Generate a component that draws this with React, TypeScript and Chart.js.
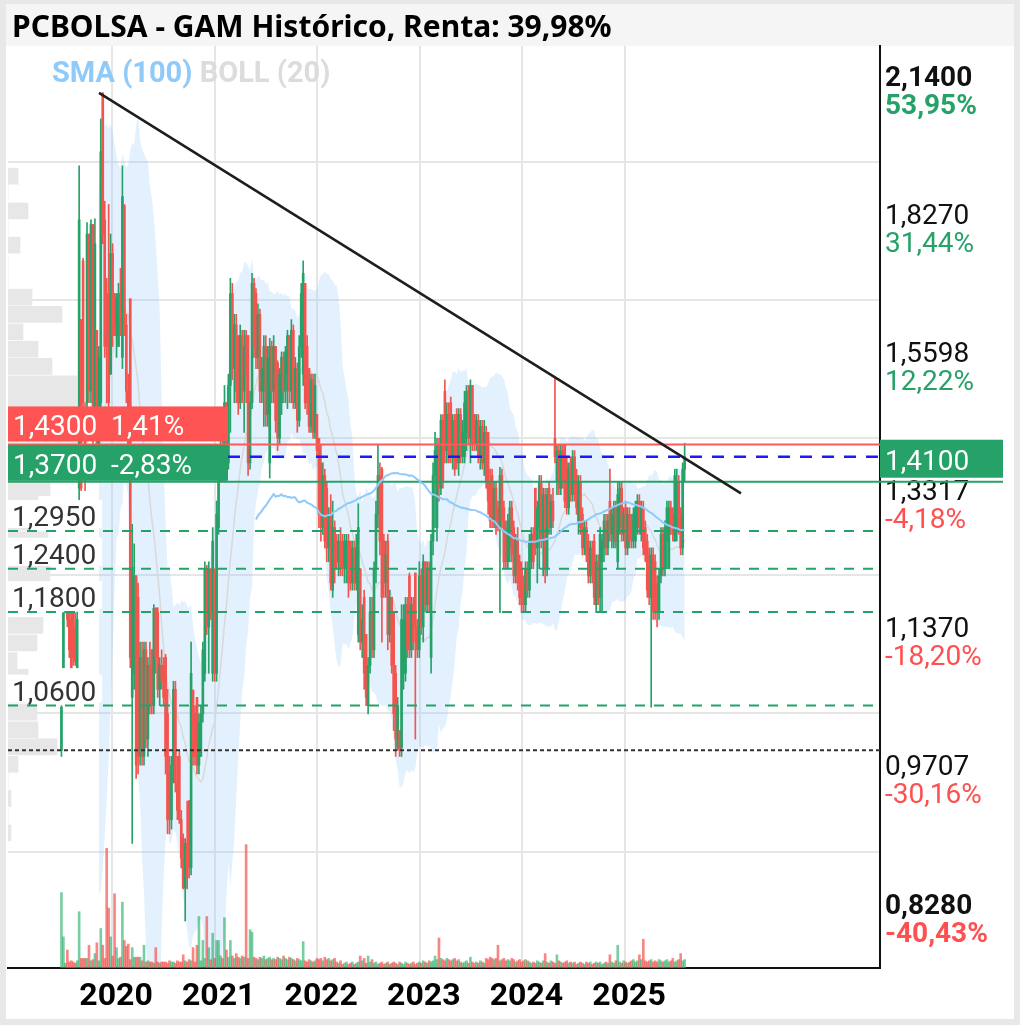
import React, { useEffect, useRef } from 'react';
import { Chart, registerables } from 'chart.js';

Chart.register(...registerables);

// ---------- data ----------
const START_DATE = '2019-07-05';

const OPEN = [
  1.007,1.107,1.179,1.179,1.179,1.17,1.179,1.16,1.107,1.36,
  1.65,1.765,1.45,1.5,1.82,1.52,1.84,1.45,1.63,1.42,
  1.5,2.14,1.85,1.7,1.7,1.55,1.78,1.7,1.62,1.6,
  1.7,1.58,1.88,1.64,1.52,1.69,1.07,1.1,1.23,1.2,
  1.0,1.12,1.0,1.13,1.02,1.11,1.13,1.06,1.185,1.18,
  1.08,1.11,1.11,1.12,1.05,0.98,0.93,0.99,1.08,0.97,
  1.0,0.93,0.91,0.86,0.905,0.95,0.88,1.079,1.05,1.07,
  0.99,1.0,1.05,1.1,1.24,1.16,1.24,1.1,1.234,1.1,
  1.3,1.38,1.43,1.38,1.5,1.4,1.53,1.7,1.56,1.64,
  1.62,1.5,1.62,1.52,1.62,1.62,1.4,1.5,1.72,1.7,
  1.58,1.66,1.52,1.52,1.6,1.48,1.4,1.6,1.52,1.6,
  1.57,1.44,1.5,1.58,1.52,1.55,1.62,1.52,1.63,1.5,
  1.56,1.47,1.6,1.55,1.72,1.6,1.56,1.46,1.54,1.45,
  1.48,1.44,1.4,1.3,1.38,1.36,1.27,1.32,1.21,1.3,
  1.28,1.25,1.28,1.28,1.24,1.24,1.28,1.28,1.22,1.27,
  1.22,1.15,1.24,1.14,1.2,1.15,1.06,1.11,1.18,1.13,
  1.24,1.32,1.38,1.39,1.28,1.22,1.28,1.15,1.2,1.18,
  1.1,1.01,1.03,1.01,1.1,1.1,1.19,1.23,1.13,1.19,
  1.234,1.16,1.13,1.23,1.16,1.25,1.19,1.24,1.12,1.28,
  1.38,1.3,1.43,1.36,1.47,1.52,1.42,1.48,1.5,1.41,
  1.47,1.48,1.4,1.48,1.41,1.41,1.45,1.52,1.44,1.53,
  1.48,1.43,1.47,1.41,1.46,1.4,1.45,1.45,1.37,1.38,
  1.31,1.36,1.33,1.3,1.38,1.33,1.3,1.25,1.27,1.33,
  1.3,1.23,1.28,1.25,1.24,1.22,1.19,1.24,1.21,1.25,
  1.29,1.36,1.27,1.3,1.37,1.28,1.35,1.24,1.36,1.3,
  1.34,1.44,1.37,1.42,1.36,1.42,1.43,1.4,1.33,1.4,
  1.35,1.41,1.38,1.31,1.37,1.32,1.27,1.3,1.28,1.23,
  1.27,1.28,1.19,1.25,1.2,1.25,1.27,1.31,1.27,1.34,
  1.29,1.28,1.33,1.25,1.3,1.36,1.29,1.33,1.27,1.32,
  1.31,1.28,1.28,1.3,1.34,1.29,1.33,1.3,1.28,1.26,
  1.2,1.26,1.25,1.22,1.18,1.23,1.29,1.24,1.28,1.24,
  1.33,1.32,1.28,1.3,1.37,1.32,1.27,1.39,
];

const HIGH = [
  1.06,1.179,1.179,1.179,1.179,1.179,1.179,1.179,1.18,1.968,
  1.65,1.77,1.5,1.844,1.82,1.85,1.84,1.852,1.63,1.6,
  2.077,2.14,1.89,1.73,1.883,1.82,1.8,1.7,1.7,1.72,
  1.75,1.968,1.883,1.66,1.55,1.69,1.305,1.276,1.23,1.22,
  1.14,1.14,1.14,1.14,1.12,1.14,1.13,1.19,1.186,1.186,
  1.12,1.13,1.12,1.124,1.08,1.0,1.0,1.09,1.09,1.0,
  1.007,0.94,0.915,0.91,0.95,0.951,1.14,1.079,1.06,1.07,
  1.05,1.06,1.14,1.25,1.245,1.25,1.24,1.3,1.24,1.34,
  1.4,1.45,1.44,1.53,1.5,1.55,1.73,1.72,1.66,1.66,
  1.62,1.64,1.63,1.63,1.63,1.62,1.52,1.74,1.73,1.71,
  1.68,1.67,1.58,1.62,1.62,1.6,1.615,1.61,1.62,1.6,
  1.574,1.56,1.59,1.59,1.6,1.63,1.62,1.65,1.64,1.58,
  1.57,1.62,1.72,1.765,1.72,1.62,1.56,1.55,1.55,1.55,
  1.48,1.44,1.43,1.4,1.39,1.37,1.33,1.35,1.34,1.31,
  1.29,1.29,1.3,1.29,1.29,1.29,1.29,1.28,1.28,1.28,
  1.29,1.336,1.24,1.19,1.21,1.15,1.12,1.2,1.2,1.25,
  1.34,1.43,1.4,1.393,1.29,1.28,1.29,1.21,1.2,1.18,
  1.11,1.07,1.03,1.19,1.19,1.2,1.2,1.234,1.2,1.2,
  1.234,1.17,1.25,1.24,1.26,1.25,1.25,1.25,1.29,1.4,
  1.45,1.44,1.44,1.48,1.48,1.54,1.5,1.5,1.51,1.48,
  1.48,1.49,1.49,1.49,1.47,1.52,1.53,1.53,1.54,1.53,
  1.48,1.48,1.48,1.47,1.47,1.47,1.46,1.45,1.39,1.39,
  1.37,1.37,1.34,1.393,1.39,1.34,1.31,1.32,1.34,1.34,
  1.31,1.29,1.3,1.26,1.25,1.23,1.25,1.25,1.29,1.3,
  1.3,1.36,1.34,1.38,1.38,1.36,1.36,1.36,1.37,1.35,
  1.36,1.545,1.43,1.43,1.43,1.43,1.43,1.41,1.4,1.41,
  1.42,1.42,1.39,1.38,1.38,1.33,1.31,1.31,1.29,1.28,
  1.28,1.29,1.26,1.26,1.3,1.29,1.32,1.32,1.32,1.39,
  1.33,1.34,1.34,1.37,1.37,1.37,1.33,1.34,1.33,1.33,
  1.32,1.33,1.34,1.35,1.35,1.34,1.34,1.31,1.29,1.27,
  1.27,1.27,1.26,1.23,1.24,1.3,1.3,1.31,1.34,1.34,
  1.34,1.33,1.39,1.39,1.38,1.33,1.4,1.432,
];

const LOW = [
  1.0,1.107,1.179,1.16,1.12,1.107,1.11,1.11,1.107,1.34,
  1.356,1.49,1.356,1.49,1.5,1.5,1.42,1.45,1.4,1.4,
  1.49,1.8,1.58,1.5,1.49,1.55,1.6,1.62,1.58,1.6,
  1.62,1.56,1.62,1.5,1.4,1.107,0.905,1.08,0.975,0.98,
  0.99,0.99,0.99,1.01,1.0,1.05,1.05,1.05,1.1,1.07,
  1.06,1.08,1.06,0.98,0.915,0.915,0.92,0.97,0.96,0.93,
  0.926,0.88,0.859,0.828,0.859,0.87,0.873,0.99,0.99,0.98,
  0.98,1.0,1.04,1.09,1.15,1.1,1.17,1.09,1.09,1.09,
  1.29,1.37,1.37,1.37,1.39,1.39,1.45,1.54,1.5,1.5,
  1.48,1.49,1.5,1.45,1.5,1.38,1.39,1.49,1.58,1.56,
  1.56,1.5,1.5,1.46,1.46,1.46,1.376,1.5,1.5,1.45,
  1.42,1.43,1.48,1.5,1.5,1.49,1.5,1.5,1.49,1.49,
  1.45,1.46,1.58,1.53,1.49,1.48,1.45,1.45,1.44,1.44,
  1.41,1.3,1.28,1.29,1.27,1.25,1.25,1.21,1.2,1.22,
  1.24,1.23,1.23,1.23,1.22,1.22,1.2,1.21,1.21,1.21,
  1.21,1.14,1.13,1.12,1.08,1.06,1.05,1.1,1.12,1.12,
  1.22,1.3,1.26,1.14,1.2,1.2,1.13,1.14,1.1,1.03,
  1.0,1.007,1.0,1.0,1.08,1.09,1.12,1.12,1.12,1.13,
  1.02,1.12,1.12,1.15,1.14,1.18,1.18,1.18,1.1,1.26,
  1.3,1.28,1.34,1.35,1.36,1.4,1.4,1.4,1.4,1.39,
  1.38,1.39,1.38,1.4,1.4,1.4,1.42,1.43,1.4,1.42,
  1.42,1.42,1.4,1.39,1.39,1.38,1.36,1.32,1.3,1.3,
  1.3,1.29,1.295,1.179,1.3,1.24,1.24,1.24,1.25,1.25,
  1.22,1.22,1.21,1.19,1.18,1.179,1.18,1.2,1.2,1.24,
  1.24,1.26,1.22,1.24,1.27,1.23,1.22,1.23,1.29,1.29,
  1.3,1.4,1.35,1.35,1.35,1.36,1.33,1.32,1.32,1.34,
  1.34,1.34,1.32,1.29,1.29,1.26,1.26,1.25,1.22,1.22,
  1.22,1.19,1.179,1.19,1.18,1.18,1.25,1.26,1.26,1.28,
  1.27,1.27,1.27,1.24,1.29,1.28,1.28,1.26,1.26,1.27,
  1.27,1.27,1.27,1.29,1.29,1.28,1.26,1.25,1.2,1.19,
  1.058,1.17,1.17,1.16,1.17,1.22,1.23,1.23,1.24,1.24,
  1.29,1.28,1.28,1.28,1.29,1.26,1.26,1.37,
];

const CLOSE = [
  1.058,1.179,1.179,1.17,1.13,1.107,1.12,1.115,1.17,1.85,
  1.36,1.5,1.37,1.82,1.52,1.84,1.45,1.8,1.42,1.58,
  2.0,1.82,1.6,1.6,1.5,1.78,1.62,1.64,1.69,1.7,
  1.66,1.9,1.64,1.52,1.42,1.12,1.242,1.23,0.99,1.0,
  1.12,1.0,1.13,1.02,1.11,1.06,1.06,1.185,1.12,1.08,
  1.11,1.09,1.07,1.0,0.93,0.93,0.99,1.08,0.97,0.94,
  0.93,0.89,0.86,0.905,0.87,0.88,1.1,1.0,1.0,0.99,
  1.04,1.05,1.13,1.24,1.16,1.24,1.18,1.28,1.1,1.32,
  1.38,1.43,1.38,1.5,1.4,1.53,1.7,1.56,1.64,1.52,
  1.5,1.62,1.52,1.6,1.55,1.4,1.5,1.72,1.6,1.58,
  1.66,1.52,1.56,1.6,1.48,1.58,1.6,1.52,1.6,1.47,
  1.44,1.55,1.58,1.52,1.59,1.62,1.52,1.63,1.5,1.56,
  1.47,1.6,1.7,1.74,1.5,1.5,1.46,1.54,1.45,1.53,
  1.42,1.32,1.3,1.38,1.28,1.27,1.32,1.22,1.3,1.24,
  1.25,1.28,1.24,1.24,1.28,1.28,1.22,1.22,1.27,1.22,
  1.27,1.3,1.14,1.17,1.1,1.07,1.11,1.18,1.13,1.24,
  1.32,1.38,1.28,1.2,1.22,1.26,1.15,1.2,1.11,1.05,
  1.02,1.06,1.007,1.17,1.17,1.19,1.13,1.13,1.19,1.14,
  1.16,1.13,1.23,1.16,1.25,1.19,1.24,1.19,1.28,1.38,
  1.42,1.43,1.36,1.47,1.37,1.42,1.48,1.41,1.41,1.47,
  1.39,1.4,1.48,1.41,1.45,1.5,1.52,1.44,1.53,1.43,
  1.43,1.47,1.41,1.46,1.4,1.45,1.37,1.34,1.31,1.31,
  1.36,1.3,1.3,1.38,1.31,1.25,1.25,1.31,1.33,1.26,
  1.23,1.28,1.22,1.2,1.19,1.19,1.24,1.21,1.28,1.29,
  1.25,1.27,1.33,1.37,1.28,1.35,1.24,1.35,1.3,1.34,
  1.31,1.41,1.42,1.36,1.42,1.37,1.34,1.33,1.39,1.35,
  1.41,1.35,1.33,1.37,1.3,1.27,1.3,1.26,1.23,1.27,
  1.23,1.2,1.25,1.2,1.29,1.28,1.31,1.27,1.31,1.29,
  1.32,1.33,1.28,1.35,1.36,1.29,1.32,1.27,1.32,1.28,
  1.28,1.32,1.33,1.34,1.3,1.33,1.27,1.26,1.21,1.2,
  1.26,1.18,1.18,1.18,1.23,1.29,1.24,1.3,1.33,1.33,
  1.3,1.29,1.38,1.37,1.3,1.27,1.39,1.41,
];

const VOLUME = [
  63,26,4,15,5,6,5,4,6,47,8,8,8,8,19,6,7,12,21,6,
  33,19,8,100,50,26,10,62,17,8,9,55,23,18,20,7,17,9,9,9,
  9,6,19,5,6,5,5,4,17,5,4,5,5,5,4,6,5,5,4,6,
  5,5,11,6,5,7,6,17,5,19,43,6,23,8,43,17,7,29,8,23,
  23,10,8,42,15,9,23,10,8,12,9,8,10,9,103,8,32,30,9,8,
  7,9,8,10,7,8,9,7,8,7,9,8,7,10,8,7,9,8,7,6,
  8,7,6,22,6,5,7,6,5,6,8,7,8,6,9,7,8,6,7,8,
  5,4,6,3,4,5,3,4,5,3,4,5,10,6,8,4,10,5,7,4,
  5,3,4,5,3,4,5,3,4,5,4,3,5,4,3,5,4,3,4,5,
  3,4,5,4,6,5,4,6,5,6,10,7,25,8,7,6,8,7,6,7,
  8,6,7,5,4,5,6,4,9,5,4,5,4,6,5,4,8,7,9,8,
  7,8,19,6,7,8,6,7,6,8,7,5,6,7,5,6,7,6,5,4,
  5,4,6,5,4,6,12,5,4,6,5,4,11,6,5,4,5,6,4,5,
  4,5,3,4,5,4,3,5,4,5,3,4,5,4,5,3,4,5,4,11,
  5,4,6,19,5,4,6,5,4,5,6,7,5,6,11,7,24,6,5,6,
  7,5,6,5,7,6,5,6,7,5,6,8,5,6,7,12,6,7,
];

// volume profile (price levels and traded volume at each level)
const VP_PRICES = [
  1.945,1.907,1.869,1.833,1.797,1.761,1.727,1.693,1.66,1.627,
  1.595,1.564,1.533,1.504,1.474,1.445,1.417,1.388,1.361,1.335,
  1.308,1.282,1.258,1.233,1.209,1.185,1.162,1.139,1.116,1.095,
  1.073,1.052,1.031,1.011,0.991,0.972,0.953,0.934,0.916,
];
const VP_VOLUME = [
  10,0,20,0,12,0,0,24,54,15,
  30,44,69,69,60,80,90,70,42,30,
  20,40,42,42,30,0,35,29,9,20,
  20,29,30,49,10,0,3,0,3,
];

const Y_TICKS = [0.828, 0.9707, 1.137, 1.3317, 1.5598, 1.827, 2.14];
const Y_TICK_PCT = ['-40,43%', '-30,16%', '-18,20%', '-4,18%', '12,22%', '31,44%', '53,95%'];
const YEAR_TICKS = [2020, 2021, 2022, 2023, 2024, 2025];

const TREND_X = [2019.873, 2026.13];
const TREND_Y = [2.14, 1.352];

const RESIST = 1.43;
const RESIST_PCT = '1,41%';
const CURRENT = 1.41;
const SUPPORT = 1.37;
const SUPPORT_PCT = '-2,83%';
const LEVELS = [1.295, 1.24, 1.18, 1.06];
const DOTTED_LEVEL = 1.007;

const TITLE = 'PCBOLSA - GAM Histórico, Renta: 39,98%';

// ---------- layout / style ----------
const X_MIN = 2018.986;
const X_MAX = 2027.485;
const Y_MIN = 0.7846;
const Y_MAX = 2.258;
const VOL_AXIS_MAX = 770;
const VP_AXIS_MAX = 872;

const GREEN = '#26a269';
const RED = '#f2544f';
const PCT_RED = '#ff4f4f';
const BOX_RED = '#ff5454';
const VOL_GREEN = 'rgba(38,175,105,0.62)';
const VOL_RED = 'rgba(242,84,79,0.7)';
const GRID = '#e6e6e6';

const fmt = (v: number) => v.toFixed(4).replace('.', ',');
const isEdge = (i: number) => i === 0 || i === Y_TICKS.length - 1;

const toYear = (ms: number) => {
  const d = new Date(ms);
  const y = d.getUTCFullYear();
  const s = Date.UTC(y, 0, 1);
  const e = Date.UTC(y + 1, 0, 1);
  return y + (ms - s) / (e - s);
};

const startMs = Date.parse(START_DATE + 'T00:00:00Z');
const T = CLOSE.map((_, i) => toYear(startMs + i * 7 * 86400000));

const movingAvg = (arr: number[], n: number) =>
  arr.map((_, i) => {
    if (i < n - 1) return null;
    let s = 0;
    for (let k = i - n + 1; k <= i; k++) s += arr[k];
    return s / n;
  });

const movingStd = (arr: number[], n: number, mean: (number | null)[]) =>
  arr.map((_, i) => {
    const m = mean[i];
    if (m === null) return null;
    let s = 0;
    for (let k = i - n + 1; k <= i; k++) s += (arr[k] - m) * (arr[k] - m);
    return Math.sqrt(s / n);
  });

const labelsPlugin = {
  id: 'priceLabels',
  afterDraw(chart: any) {
    const { ctx, chartArea: ca, scales } = chart;
    const ys = scales.y;
    ctx.save();
    ctx.textAlign = 'left';

    // percent line under each axis value
    ctx.textBaseline = 'middle';
    Y_TICKS.forEach((v, i) => {
      const py = ys.getPixelForValue(v);
      ctx.font = (isEdge(i) ? 'bold ' : '') + '28px Roboto';
      ctx.fillStyle = Y_TICK_PCT[i].startsWith('-') ? PCT_RED : GREEN;
      ctx.fillText(Y_TICK_PCT[i], ca.right + 5, py + 14);
    });

    ctx.font = '28px Roboto';
    ctx.textBaseline = 'alphabetic';
    LEVELS.forEach((v) => {
      const py = ys.getPixelForValue(v);
      const txt = fmt(v);
      const w = ctx.measureText(txt).width;
      ctx.fillStyle = '#ffffff';
      ctx.fillRect(ca.left, py - 31, w + 10, 28);
      ctx.fillStyle = '#333333';
      ctx.fillText(txt, ca.left + 4, py - 5);
    });

    const pr = ys.getPixelForValue(RESIST);
    ctx.fillStyle = BOX_RED;
    ctx.fillRect(ca.left, pr - 38, 220, 35);
    ctx.fillStyle = '#ffffff';
    ctx.fillText(fmt(RESIST) + '  ' + RESIST_PCT, ca.left + 5, pr - 9);

    const ps = ys.getPixelForValue(SUPPORT);
    ctx.fillStyle = GREEN;
    ctx.fillRect(ca.left, ps - 37, 220, 36);
    ctx.fillStyle = '#ffffff';
    ctx.fillText(fmt(SUPPORT) + '  ' + SUPPORT_PCT, ca.left + 5, ps - 8);

    const pc = ys.getPixelForValue(CURRENT);
    ctx.fillStyle = GREEN;
    ctx.fillRect(ca.right, pc - 17, 123, 38);
    ctx.fillStyle = '#ffffff';
    ctx.fillText(fmt(CURRENT), ca.right + 5, pc + 13);
    ctx.strokeStyle = GREEN;
    ctx.lineWidth = 2;
    ctx.beginPath();
    ctx.moveTo(ca.right, ps);
    ctx.lineTo(ca.right + 123, ps);
    ctx.stroke();
    ctx.restore();
  },
};

export default function App() {
  const ref = useRef<HTMLCanvasElement>(null);

  useEffect(() => {
    const sma20 = movingAvg(CLOSE, 20);
    const sd20 = movingStd(CLOSE, 20, sma20);
    const upper = sma20.map((m, i) => (m === null ? null : m + 2 * (sd20[i] as number)));
    const lower = sma20.map((m, i) => (m === null ? null : Math.max(m - 2 * (sd20[i] as number), 0.3)));
    const sma100 = movingAvg(CLOSE, 100);

    const candleColors = CLOSE.map((c, i) => (c >= OPEN[i] ? GREEN : RED));
    const volColors = CLOSE.map((c, i) => (c >= OPEN[i] ? VOL_GREEN : VOL_RED));

    const hline = (v: number, color: string, width: number, dash: number[], order: number) => ({
      type: 'line' as const,
      data: [{ x: X_MIN, y: v }, { x: X_MAX, y: v }],
      borderColor: color,
      borderWidth: width,
      borderDash: dash,
      pointRadius: 0,
      fill: false,
      order,
      xAxisID: 'x',
      yAxisID: 'y',
    });

    const chart = new Chart(ref.current as HTMLCanvasElement, {
      type: 'bar',
      data: {
        datasets: [
          {
            type: 'line',
            label: 'BOLL up',
            data: T.map((t, i) => ({ x: t, y: upper[i] })),
            borderWidth: 0,
            borderColor: 'rgba(0,0,0,0)',
            pointRadius: 0,
            fill: false,
            order: 9,
            xAxisID: 'x',
            yAxisID: 'y',
          },
          {
            type: 'line',
            label: 'BOLL low',
            data: T.map((t, i) => ({ x: t, y: lower[i] })),
            borderWidth: 0,
            borderColor: 'rgba(0,0,0,0)',
            backgroundColor: 'rgba(144,202,249,0.26)',
            pointRadius: 0,
            fill: '-1',
            order: 9,
            xAxisID: 'x',
            yAxisID: 'y',
          },
          {
            type: 'bar',
            label: 'Volume profile',
            indexAxis: 'y',
            data: VP_PRICES.map((p, i) => ({ x: VP_VOLUME[i], y: p })),
            backgroundColor: '#e7e7e7',
            barThickness: 16,
            grouped: false,
            order: 10,
            xAxisID: 'xvp',
            yAxisID: 'y',
          } as any,
          {
            type: 'bar',
            label: 'Volume',
            data: T.map((t, i) => ({ x: t, y: VOLUME[i] })),
            backgroundColor: volColors,
            barThickness: 2,
            grouped: false,
            order: 7,
            xAxisID: 'x',
            yAxisID: 'yv',
          },
          {
            type: 'line',
            label: 'BOLL mid',
            data: T.map((t, i) => ({ x: t, y: sma20[i] })),
            borderColor: '#d9d9d9',
            borderWidth: 1.5,
            pointRadius: 0,
            fill: false,
            order: 6,
            xAxisID: 'x',
            yAxisID: 'y',
          },
          {
            type: 'bar',
            label: 'Wick',
            data: T.map((t, i) => ({ x: t, y: [LOW[i], HIGH[i]] })),
            backgroundColor: candleColors,
            barThickness: 1,
            minBarLength: 1,
            grouped: false,
            order: 5,
            xAxisID: 'x',
            yAxisID: 'y',
          } as any,
          {
            type: 'bar',
            label: 'Body',
            data: T.map((t, i) => ({ x: t, y: [Math.min(OPEN[i], CLOSE[i]), Math.max(OPEN[i], CLOSE[i])] })),
            backgroundColor: candleColors,
            barThickness: 2,
            minBarLength: 1,
            grouped: false,
            order: 4,
            xAxisID: 'x',
            yAxisID: 'y',
          } as any,
          hline(DOTTED_LEVEL, '#333333', 2, [4, 3], 3),
          ...LEVELS.map((v) => hline(v, GREEN, 2, [10, 9], 3)),
          hline(SUPPORT, GREEN, 2, [], 3),
          hline(CURRENT, '#1a1aff', 2.5, [12, 10], 3),
          hline(RESIST, '#ff5a5a', 2, [], 3),
          {
            type: 'line',
            label: 'SMA (100)',
            data: T.map((t, i) => ({ x: t, y: sma100[i] })),
            borderColor: '#90caf9',
            borderWidth: 2,
            pointRadius: 0,
            fill: false,
            order: 2,
            xAxisID: 'x',
            yAxisID: 'y',
          },
          {
            type: 'line',
            label: 'Trend',
            data: TREND_X.map((x, i) => ({ x, y: TREND_Y[i] })),
            borderColor: '#1e1e1e',
            borderWidth: 2.5,
            pointRadius: 0,
            fill: false,
            order: 1,
            xAxisID: 'x',
            yAxisID: 'y',
          },
        ] as any,
      },
      options: {
        responsive: false,
        animation: false,
        events: [],
        layout: { padding: { left: 8, top: 46, right: 0, bottom: 0 } },
        plugins: {
          legend: { display: false },
          tooltip: { enabled: false },
          title: { display: false },
        },
        scales: {
          x: {
            type: 'linear',
            axis: 'x',
            position: 'bottom',
            min: X_MIN,
            max: X_MAX,
            offset: false,
            afterBuildTicks: (s: any) => {
              s.ticks = YEAR_TICKS.map((v) => ({ value: v }));
            },
            afterFit: (s: any) => {
              s.height = 57;
            },
            grid: { color: GRID, lineWidth: 2, drawTicks: false, offset: false },
            border: { display: true, color: '#111111', width: 2 },
            ticks: {
              autoSkip: false,
              maxRotation: 0,
              padding: 10,
              labelOffset: 4,
              color: '#000000',
              font: { family: 'Roboto', size: 32, weight: 'bold' },
              callback: (v: any) => String(v),
            },
          },
          xvp: {
            type: 'linear',
            axis: 'x',
            display: false,
            min: 0,
            max: VP_AXIS_MAX,
            offset: false,
            grid: { offset: false },
          },
          y: {
            type: 'logarithmic',
            axis: 'y',
            position: 'right',
            min: Y_MIN,
            max: Y_MAX,
            afterBuildTicks: (s: any) => {
              s.ticks = Y_TICKS.map((v) => ({ value: v }));
            },
            afterFit: (s: any) => {
              s.width = 140;
            },
            grid: { color: GRID, lineWidth: 2, drawTicks: false },
            border: { display: true, color: '#111111', width: 2 },
            ticks: {
              autoSkip: false,
              padding: 5,
              labelOffset: -14,
              color: '#111111',
              font: (c: any) => ({ family: 'Roboto', size: 28, weight: isEdge(c.index) ? 'bold' : 'normal' }),
              callback: (v: any) => fmt(Number(v)),
            },
          },
          yv: {
            type: 'linear',
            axis: 'y',
            display: false,
            min: 0,
            max: VOL_AXIS_MAX,
          },
        } as any,
      },
      plugins: [labelsPlugin],
    });
    return () => chart.destroy();
  }, []);

  return (
    <div style={{ position: 'absolute', left: 0, top: 0, width: 1020, height: 1025, background: '#e8e8e8', overflow: 'hidden' }}>
      <div style={{ position: 'absolute', left: 6, top: 4, width: 1008, height: 1015, background: '#ffffff' }} />
      <div style={{ position: 'absolute', left: 6, top: 4, width: 1008, height: 42, background: '#f5f5f5' }} />
      <canvas ref={ref} width={1020} height={1025} style={{ position: 'absolute', left: 0, top: 0, width: 1020, height: 1025 }} />
      <div
        style={{
          position: 'absolute',
          left: 12,
          top: 6,
          fontFamily: '"Noto Sans", sans-serif',
          fontWeight: 'bold',
          fontSize: 30,
          lineHeight: '40px',
          color: '#000',
          whiteSpace: 'nowrap',
        }}
      >
        {TITLE}
      </div>
      <div
        style={{
          position: 'absolute',
          left: 52,
          top: 54,
          fontFamily: 'Roboto, sans-serif',
          fontWeight: 'bold',
          fontSize: 29,
          lineHeight: '36px',
          whiteSpace: 'nowrap',
        }}
      >
        <span style={{ color: '#90caf9' }}>SMA (100)</span> <span style={{ color: '#dcdcdc' }}>BOLL (20)</span>
      </div>
    </div>
  );
}
